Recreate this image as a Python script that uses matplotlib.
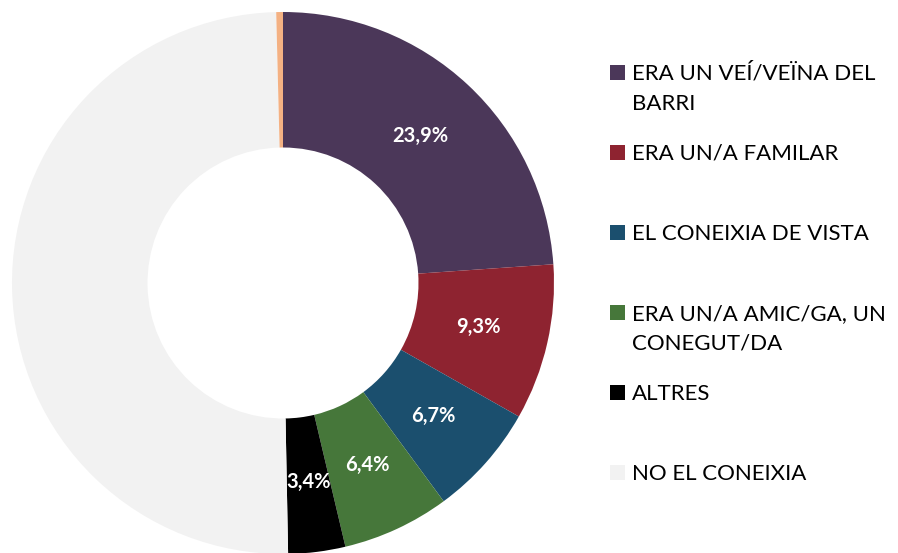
import matplotlib
matplotlib.use("Agg")
import matplotlib.pyplot as plt
from matplotlib.patches import Rectangle
import numpy as np

# ----------------------------------------
# DATA
# ----------------------------------------
categories = [
    "ERA UN VEÍ/VEÏNA DEL\nBARRI",
    "ERA UN/A FAMILAR",
    "EL CONEIXIA DE VISTA",
    "ERA UN/A AMIC/GA, UN\nCONEGUT/DA",
    "ALTRES",
    "NO EL CONEIXIA",
    "",
]
values = [23.9, 9.3, 6.7, 6.4, 3.4, 49.9, 0.4]
show_label = [True, True, True, True, True, False, False]
colors = ["#4B3759", "#8E2330", "#1B4F6E", "#46773A", "#000000", "#F2F2F2", "#F4B183"]

plt.rcParams["font.family"] = ["Lato", "DejaVu Sans"]

W, H = 898, 553
fig = plt.figure(figsize=(W / 100, H / 100), dpi=100)

# pie axes: centre (283, 283) px, radius 271 px
cx, cy, r = 283, 283, 271
ax = fig.add_axes([(cx - r) / W, 1 - (cy + r) / H, 2 * r / W, 2 * r / H])

wedges, _ = ax.pie(
    values,
    colors=colors,
    startangle=90,
    counterclock=False,
    radius=1.0,
    wedgeprops=dict(width=0.5, linewidth=0),
)
ax.set_xlim(-1, 1)
ax.set_ylim(-1, 1)
ax.set_aspect("equal")
ax.axis("off")

# value labels on the ring
total = sum(values)
cum = 0
for v, show in zip(values, show_label):
    mid = (cum + v / 2) / total * 2 * np.pi
    cum += v
    if not show:
        continue
    x = 0.74 * np.sin(mid)
    y = 0.74 * np.cos(mid)
    ax.text(x, y, f"{v:.1f}%".replace(".", ","), ha="center", va="center",
            color="white", fontsize=14.5, fontweight="bold")

# ----------------------------------------
# LEGEND (manual, evenly spaced rows)
# ----------------------------------------
row0 = 80     # baseline of first row, px from top
step = 80
line_gap = 30
for i, (lab, col) in enumerate(zip(categories[:6], colors[:6])):
    base = row0 + i * step
    fig.add_artist(Rectangle((610 / W, 1 - base / H), 15 / W, 15 / H,
                             transform=fig.transFigure, facecolor=col,
                             edgecolor="none"))
    for j, line in enumerate(lab.split("\n")):
        fig.text(632 / W, 1 - (base + j * line_gap) / H, line,
                 ha="left", va="baseline", fontsize=16, color="#000000")

fig.savefig("out.png", dpi=100)
